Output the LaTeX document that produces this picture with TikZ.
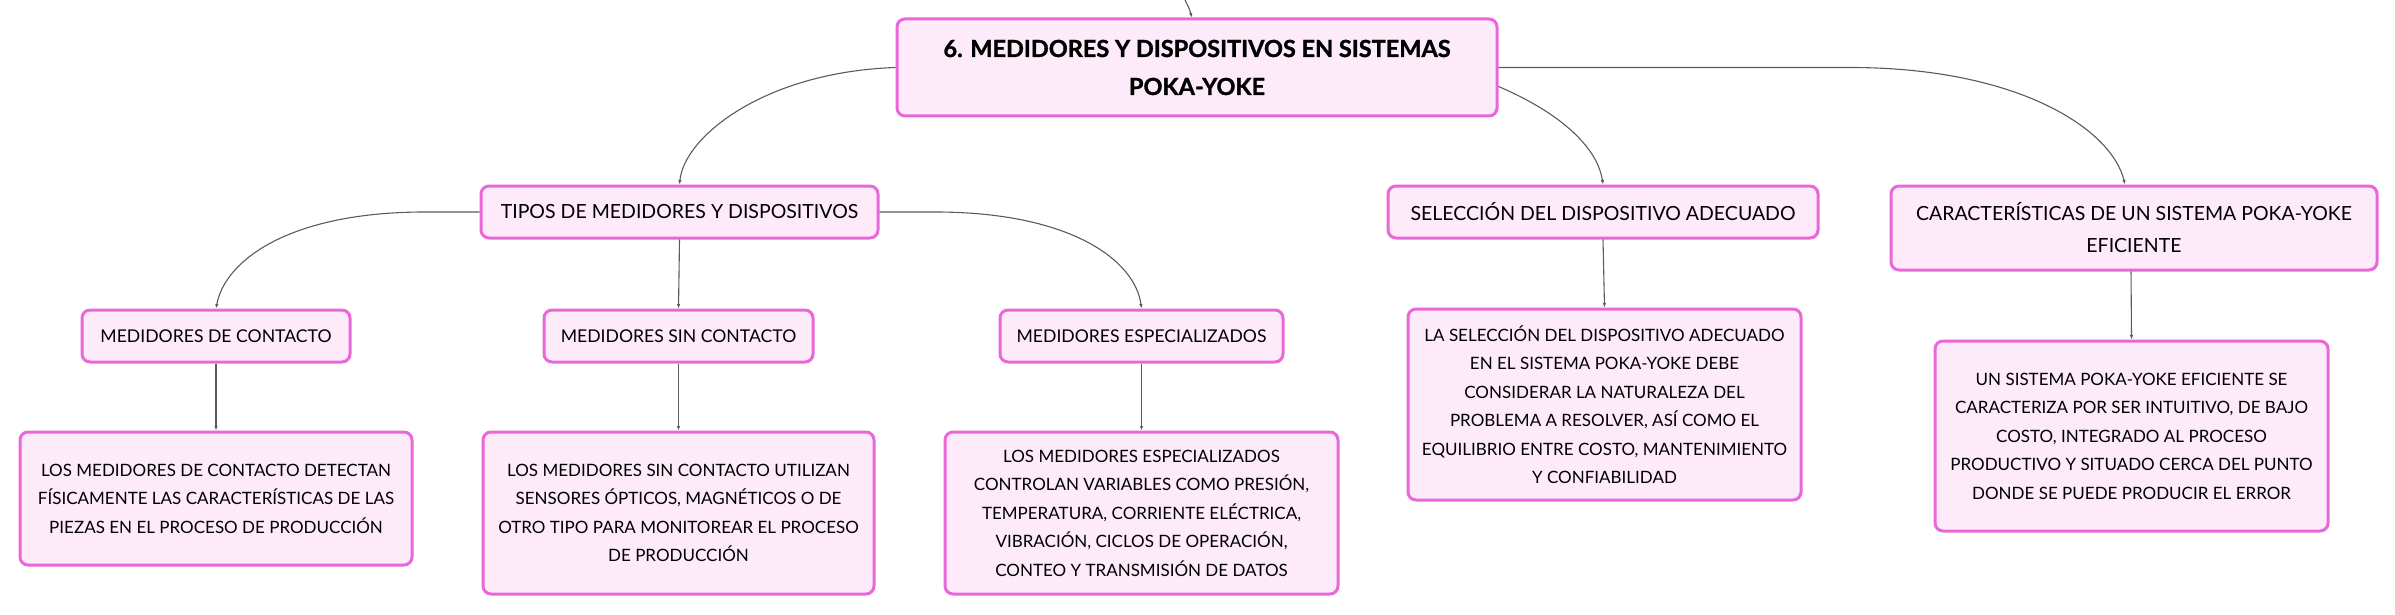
\documentclass[tikz,border=0pt]{standalone}
\usepackage{fontspec}
\setmainfont{Lato}
\newfontfamily\rootfont{Lato}[BoldFeatures={FakeBold=1.3}]
\usetikzlibrary{arrows.meta}
\definecolor{boxfill}{HTML}{FDEBF9}
\definecolor{boxdraw}{HTML}{E967D8}
\definecolor{linegray}{HTML}{5A5A5A}
\begin{document}
\begin{tikzpicture}[x=1pt,y=-1pt,
  box/.style={draw=boxdraw, fill=boxfill, line width=3pt, rounded corners=8pt,
    align=center, inner sep=0pt, font=\fontsize{17}{28.5}\selectfont, text=black},
  lvlone/.style={box, font=\fontsize{19.5}{32}\selectfont},
  lvltwo/.style={box, font=\fontsize{17.6}{28.5}\selectfont},
  rootbox/.style={box, font=\rootfont\bfseries\fontsize{23.5}{38}\selectfont},
  conn/.style={draw=linegray, line width=1.1pt, -{Latex[length=4.5pt,width=3.5pt]}}]
\useasboundingbox (0,0) rectangle (2395,615);
% nodes
\node[rootbox, minimum width=600pt, minimum height=97pt] (root) at (1197,67.5)
  {6. MEDIDORES Y DISPOSITIVOS EN SISTEMAS\\POKA-YOKE};
\node[lvlone, minimum width=397pt, minimum height=52pt] (tipos) at (679.5,212)
  {TIPOS DE MEDIDORES Y DISPOSITIVOS};
\node[lvlone, minimum width=430pt, minimum height=52pt] (sel) at (1603,212)
  {SELECCIÓN DEL DISPOSITIVO ADECUADO};
\node[lvlone, minimum width=486pt, minimum height=84pt] (car) at (2134,228)
  {CARACTERÍSTICAS DE UN SISTEMA POKA-YOKE\\EFICIENTE};
\node[lvltwo, minimum width=268pt, minimum height=52pt] (mc) at (216,336)
  {MEDIDORES DE CONTACTO};
\node[lvltwo, minimum width=269pt, minimum height=52pt] (msc) at (678.5,336)
  {MEDIDORES SIN CONTACTO};
\node[lvltwo, minimum width=283pt, minimum height=52pt] (me) at (1141.5,336)
  {MEDIDORES ESPECIALIZADOS};
\node[box, minimum width=392pt, minimum height=133pt] (d1) at (216,498.5)
  {LOS MEDIDORES DE CONTACTO DETECTAN\\FÍSICAMENTE LAS CARACTERÍSTICAS DE LAS\\PIEZAS EN EL PROCESO DE PRODUCCIÓN};
\node[box, minimum width=391pt, minimum height=162pt] (d2) at (678.5,513)
  {LOS MEDIDORES SIN CONTACTO UTILIZAN\\SENSORES ÓPTICOS, MAGNÉTICOS O DE\\OTRO TIPO PARA MONITOREAR EL PROCESO\\DE PRODUCCIÓN};
\node[box, minimum width=393pt, minimum height=162pt] (d3) at (1141.5,513)
  {LOS MEDIDORES ESPECIALIZADOS\\CONTROLAN VARIABLES COMO PRESIÓN,\\TEMPERATURA, CORRIENTE ELÉCTRICA,\\VIBRACIÓN, CICLOS DE OPERACIÓN,\\CONTEO Y TRANSMISIÓN DE DATOS};
\node[box, minimum width=393pt, minimum height=191pt] (d4) at (1604.5,404.5)
  {LA SELECCIÓN DEL DISPOSITIVO ADECUADO\\EN EL SISTEMA POKA-YOKE DEBE\\CONSIDERAR LA NATURALEZA DEL\\PROBLEMA A RESOLVER, ASÍ COMO EL\\EQUILIBRIO ENTRE COSTO, MANTENIMIENTO\\Y CONFIABILIDAD};
\node[box, minimum width=393pt, minimum height=190pt] (d5) at (2131.5,436)
  {UN SISTEMA POKA-YOKE EFICIENTE SE\\CARACTERIZA POR SER INTUITIVO, DE BAJO\\COSTO, INTEGRADO AL PROCESO\\PRODUCTIVO Y SITUADO CERCA DEL PUNTO\\DONDE SE PUEDE PRODUCIR EL ERROR};
\coordinate (topend) at (1185,0);
% connectors
\draw[conn] (topend) .. controls (1189,8) .. ([xshift=-5pt]root.north);
\draw[conn] (root.west) .. controls (764,72) and (684,137) .. (tipos.north);
\draw[conn] ([yshift=-19pt]root.east) .. controls (1565,115) and (1598,150) .. (sel.north);
\draw[conn] (root.east) -- (1850,67.5) .. controls (2020,67.5) and (2112,130) .. ([xshift=-9pt]car.north);
\draw[conn] (tipos.west) -- (425,212) .. controls (290,212) and (225,260) .. (mc.north);
\draw[conn] (tipos.south) -- (msc.north);
\draw[conn] (tipos.east) -- (935,212) .. controls (1070,212) and (1135,260) .. (me.north);
\draw[conn] (mc.south) -- (d1.north);
\draw[conn] (msc.south) -- (d2.north);
\draw[conn] (me.south) -- (d3.north);
\draw[conn] (sel.south) -- (d4.north);
\draw[conn] ([xshift=-3pt]car.south) -- (d5.north);
\end{tikzpicture}
\end{document}
